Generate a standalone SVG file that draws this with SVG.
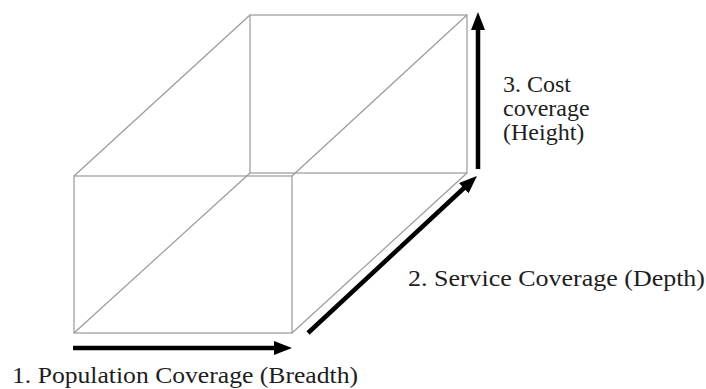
<svg xmlns="http://www.w3.org/2000/svg" width="706" height="389" viewBox="0 0 706 389">
<style>
.edge{fill:none;stroke:#9a9a9a;stroke-width:1.2}
.arr{fill:none;stroke:#000;stroke-width:4.5}
.lbl{font-family:"Liberation Serif","Times New Roman",serif;font-size:24px;fill:#1e1e1e}
</style>
<defs>
<marker id="head" markerUnits="userSpaceOnUse" markerWidth="18" markerHeight="14" refX="4" refY="7" orient="auto">
<path d="M0,0 L18,7 L0,14 z" fill="#000"/>
</marker>
</defs>
<rect width="706" height="389" fill="#fff"/>
<g id="box">
<rect class="edge" x="250" y="15" width="217" height="158"/>
<rect class="edge" x="74" y="176" width="218" height="157"/>
<line class="edge" x1="74" y1="176" x2="250" y2="15"/>
<line class="edge" x1="292" y1="176" x2="467" y2="15"/>
<line class="edge" x1="74" y1="333" x2="250" y2="173"/>
<line class="edge" x1="292" y1="333" x2="467" y2="173"/>
</g>
<g id="connectors">
<line class="arr" x1="73" y1="348" x2="278" y2="348" marker-end="url(#head)"/>
<line class="arr" x1="308" y1="333" x2="466.7" y2="185.5" marker-end="url(#head)"/>
<line class="arr" x1="478" y1="169" x2="478" y2="26" marker-end="url(#head)"/>
</g>
<g id="label-population">
<text class="lbl" x="12" y="383" textLength="346" lengthAdjust="spacingAndGlyphs">1. Population Coverage (Breadth)</text>
</g>
<g id="label-service">
<text class="lbl" x="408" y="286" textLength="297" lengthAdjust="spacingAndGlyphs">2. Service Coverage (Depth)</text>
</g>
<g id="label-cost">
<text class="lbl" x="503" y="92">3. Cost</text>
<text class="lbl" x="503" y="116">coverage</text>
<text class="lbl" x="503" y="140">(Height)</text>
</g>
</svg>
